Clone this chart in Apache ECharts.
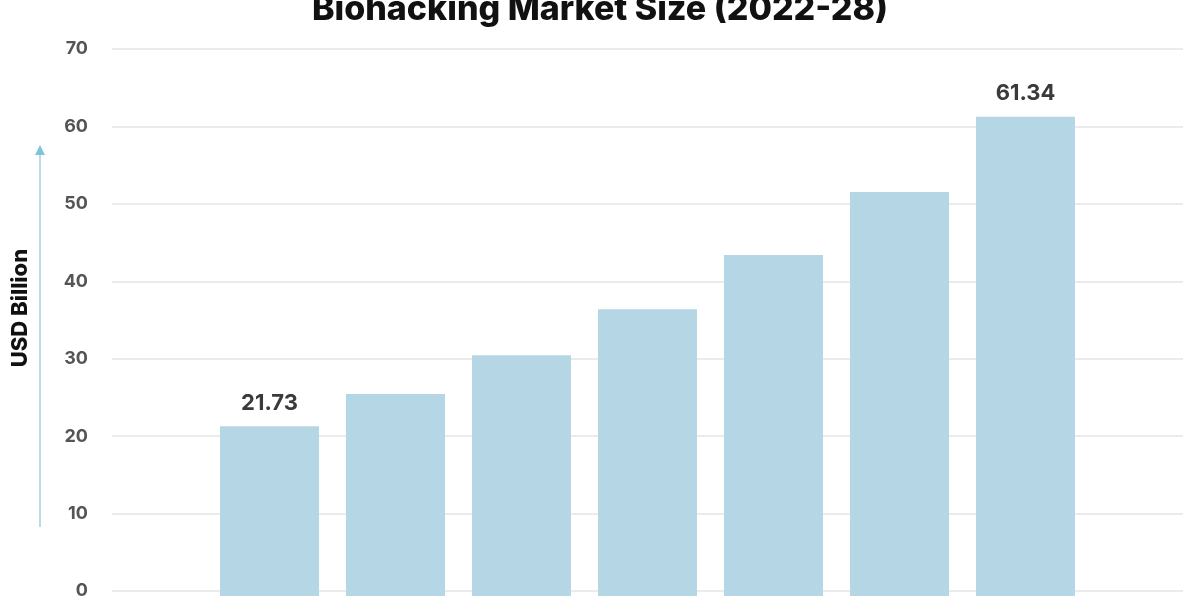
<!DOCTYPE html>
<html>
<head>
<meta charset="utf-8">
<script src="https://cdn.jsdelivr.net/npm/echarts@6/dist/echarts.min.js"></script>
<style>html,body{margin:0;padding:0;background:#fff}#c{width:1200px;height:600px}</style>
</head>
<body>
<div id="c"></div>
<script>
const categories = ['2022', '2023', '2024', '2025', '2026', '2027', '2028'];
const values = [21.73, 25.86, 30.81, 36.71, 43.63, 51.71, 61.34];
const labeledIndices = [0, 6];
const yTicks = { min: 0, max: 70, interval: 10 };

const chart = echarts.init(document.getElementById('c'));
const FONT = 'Inter';
chart.setOption({
  backgroundColor: '#ffffff',
  animation: false,
  title: {
    text: 'Biohacking Market Size (2022-28)',
    left: 'center',
    top: -12,
    textStyle: { fontFamily: FONT, fontWeight: 800, fontSize: 34, color: '#111111' }
  },
  grid: [
    { left: 112, right: 17, top: 49, bottom: 4 },
    { left: 206.5, right: 111.5, top: 49, bottom: 4 }
  ],
  xAxis: [
    { type: 'category', gridIndex: 0, data: categories, show: false },
    { type: 'category', gridIndex: 1, data: categories,
      axisLine: { show: false }, axisTick: { show: false }, axisLabel: { show: false } }
  ],
  yAxis: [
    { type: 'value', gridIndex: 0, min: yTicks.min, max: yTicks.max, interval: yTicks.interval,
      axisLine: { show: false }, axisTick: { show: false },
      splitLine: { lineStyle: { color: '#e4e4e4', width: 1.5 } },
      axisLabel: { margin: 24, fontFamily: FONT, fontWeight: 700, fontSize: 18, color: '#555555',
                   verticalAlignMinLabel: 'middle', verticalAlignMaxLabel: 'middle' } },
    { type: 'value', gridIndex: 1, min: yTicks.min, max: yTicks.max, interval: yTicks.interval,
      show: false, splitLine: { show: false } }
  ],
  series: [{
    type: 'bar',
    xAxisIndex: 1,
    yAxisIndex: 1,
    barWidth: 99,
    itemStyle: { color: '#b5d6e5' },
    data: values.map((v, i) => ({
      value: v,
      label: {
        show: labeledIndices.includes(i),
        position: 'top',
        distance: 12,
        fontFamily: FONT,
        fontWeight: 700,
        fontSize: 22,
        color: '#3a3a3a'
      }
    }))
  }],
  graphic: [
    { type: 'line', shape: { x1: 40, y1: 527, x2: 40, y2: 154 },
      style: { stroke: '#b9dde8', lineWidth: 2 } },
    { type: 'polygon', shape: { points: [[40, 145], [35, 155], [45, 155]] },
      style: { fill: '#7fc4d9' } },
    { type: 'text', x: 20, y: 308, rotation: Math.PI / 2,
      style: { text: 'USD Billion', fontFamily: FONT, fontWeight: 800, fontSize: 22,
               fill: '#111111', align: 'center', verticalAlign: 'middle' } }
  ]
});
</script>
</body>
</html>
